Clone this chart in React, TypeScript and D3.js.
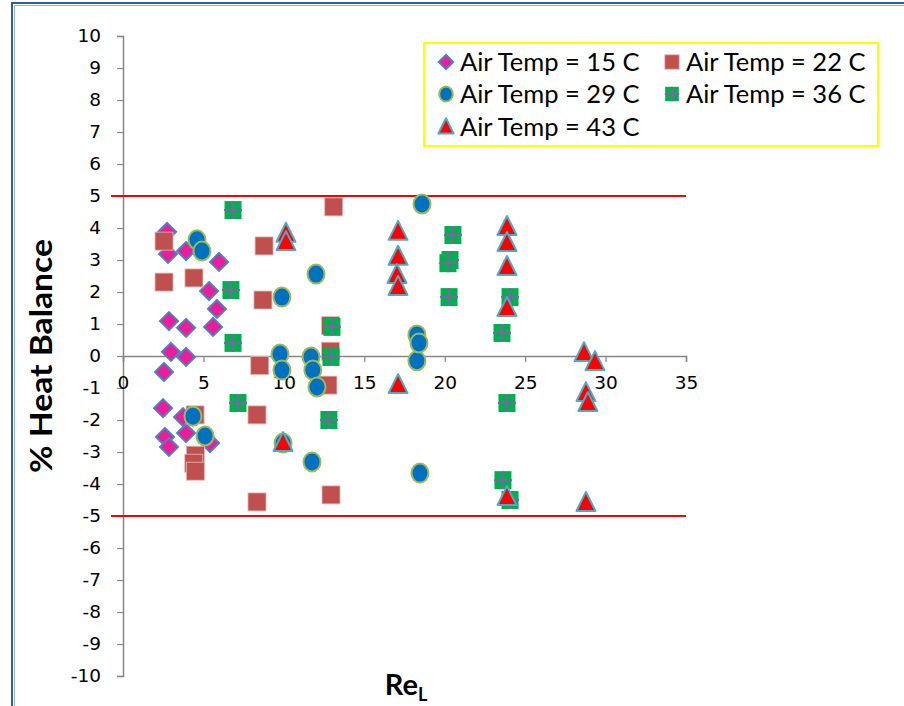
import { useEffect, useRef } from "react";
import * as d3 from "d3";

// Re_L vs % heat balance, one array per air temperature
const t15: [number, number][] = [
  [2.74, 3.88], [2.8, 3.19], [3.92, 3.28], [5.97, 2.94], [5.35, 2.03], [5.84, 1.47],
  [5.6, 0.91], [2.86, 1.09], [3.92, 0.88], [2.98, 0.13], [3.92, -0.03], [2.55, -0.5],
  [2.49, -1.63], [3.73, -1.91], [2.61, -2.53], [3.92, -2.41], [2.86, -2.84], [5.41, -2.72],
];
const t22: [number, number][] = [
  [2.55, 3.59], [2.55, 2.31], [4.41, 2.44], [8.77, 3.44], [8.7, 1.75], [13.1, 4.66],
  [8.5, -0.3], [8.33, -1.84], [4.48, -1.84], [4.5, -3.1], [4.4, -3.35], [4.5, -3.6],
  [8.33, -4.56], [12.74, -0.91], [12.93, -4.34], [12.9, 0.95], [12.9, 0.15],
];
const t29: [number, number][] = [
  [4.6, 3.63], [4.91, 3.28], [12.0, 2.56], [9.88, 1.84], [9.76, 0.06], [11.69, -0.03],
  [9.88, -0.44], [11.8, -0.44], [12.06, -0.97], [4.35, -1.88], [5.1, -2.5], [9.95, -2.72],
  [11.75, -3.31], [18.46, -3.66], [18.27, -0.15], [18.59, 4.75], [18.27, 0.66], [18.4, 0.41],
];
const t36: [number, number][] = [
  [6.84, 4.56], [6.71, 2.06], [6.84, 0.41], [7.15, -1.47], [12.99, 0.91], [12.93, -0.03],
  [12.8, -2.0], [20.51, 3.78], [20.33, 3.0], [20.2, 2.9], [20.27, 1.84], [24.06, 1.84],
  [23.56, 0.72], [23.87, -1.47], [23.62, -3.88], [24.06, -4.5],
];
const t43: [number, number][] = [
  [10.13, 3.82], [10.13, 3.56], [17.1, 3.88], [17.1, 3.1], [17.03, 2.53], [17.1, 2.16],
  [17.1, -0.91], [23.87, 4.03], [23.87, 3.53], [23.87, 2.78], [23.87, 1.5], [28.66, 0.09],
  [29.34, -0.19], [28.78, -1.16], [28.9, -1.47], [23.87, -4.41], [28.78, -4.59], [9.95, -2.72],
];
const xTicks = [0, 5, 10, 15, 20, 25, 30, 35];
const yTicks = d3.range(-10, 11, 1);
const limits = [5, -5];

type Kind = "diamond" | "square" | "circle" | "plus" | "triangle";
const series: { name: string; data: [number, number][]; kind: Kind }[] = [
  { name: "Air Temp = 15 C", data: t15, kind: "diamond" },
  { name: "Air Temp = 22 C", data: t22, kind: "square" },
  { name: "Air Temp = 29 C", data: t29, kind: "circle" },
  { name: "Air Temp = 36 C", data: t36, kind: "plus" },
  { name: "Air Temp = 43 C", data: t43, kind: "triangle" },
];

const W = 904;
const H = 706;

function drawMarker(g: d3.Selection<SVGGElement, unknown, null, undefined>, kind: Kind, s = 1) {
  if (kind === "diamond") {
    g.append("path")
      .attr("d", `M0,${-9 * s}L${9 * s},0L0,${9 * s}L${-9 * s},0Z`)
      .attr("fill", "#EC1C9C")
      .attr("stroke", "#4F81BD")
      .attr("stroke-width", 2);
  } else if (kind === "square") {
    g.append("rect")
      .attr("x", -9 * s).attr("y", -9 * s)
      .attr("width", 18 * s).attr("height", 18 * s)
      .attr("fill", "#C0504D")
      .attr("stroke", "#E6B9B8")
      .attr("stroke-width", 0.8);
  } else if (kind === "circle") {
    g.append("ellipse")
      .attr("rx", 8.5 * s).attr("ry", 9.5 * s)
      .attr("fill", "#0070C0")
      .attr("stroke", "#9BBB59")
      .attr("stroke-width", 2);
  } else if (kind === "plus") {
    g.append("rect")
      .attr("x", -8.5 * s).attr("y", -9 * s)
      .attr("width", 17 * s).attr("height", 18 * s)
      .attr("fill", "#00B050");
    g.append("path")
      .attr("d", `M${-9 * s},0H${9 * s}M0,${-9 * s}V${9 * s}`)
      .attr("stroke", "#8064A2")
      .attr("stroke-width", 2);
  } else {
    g.append("path")
      .attr("d", `M0,${-11 * s}L${9.5 * s},${8 * s}L${-9.5 * s},${8 * s}Z`)
      .attr("fill", "#FF0000")
      .attr("stroke", "#4BACC6")
      .attr("stroke-width", 2)
      .attr("stroke-linejoin", "round");
  }
}

export default function App() {
  const ref = useRef<SVGSVGElement>(null);

  useEffect(() => {
    if (!ref.current) return;
    const svg = d3.select(ref.current);
    svg.selectAll("*").remove();

    const x = d3.scaleLinear().domain([0, 35]).range([123, 686]);
    const y = d3.scaleLinear().domain([-10, 10]).range([676, 36]);
    const fmt = (d: d3.NumberValue) => String(d); // plain hyphen minus like the original

    svg.append("rect").attr("width", W).attr("height", H).attr("fill", "#fff");

    // chart frame
    svg.append("rect")
      .attr("x", 12).attr("y", 3).attr("width", 1000).attr("height", 1000)
      .attr("fill", "none").attr("stroke", "#385D8A").attr("stroke-width", 2);
    svg.append("rect")
      .attr("x", 14.5).attr("y", 5.5).attr("width", 1000).attr("height", 1000)
      .attr("fill", "none").attr("stroke", "#95B3D7").attr("stroke-width", 1);

    const tickFont = "'DejaVu Sans', Verdana, sans-serif";

    // y axis
    const yAxis = svg.append("g")
      .attr("transform", `translate(${x(0)},0)`)
      .call(d3.axisLeft(y).tickValues(yTicks).tickSize(6).tickPadding(16).tickFormat(fmt));
    yAxis.select(".domain").attr("stroke", "#868686").attr("stroke-width", 1.5);
    yAxis.selectAll(".tick line").attr("stroke", "#868686").attr("stroke-width", 1.2);
    yAxis.selectAll("text").attr("font-family", tickFont).attr("font-size", 18.5).attr("fill", "#000");

    // x axis crossing at 0
    const xAxis = svg.append("g")
      .attr("transform", `translate(0,${y(0)})`)
      .call(d3.axisBottom(x).tickValues(xTicks).tickSize(6).tickPadding(14).tickFormat(fmt));
    xAxis.select(".domain").attr("stroke", "#868686").attr("stroke-width", 1.5);
    xAxis.selectAll(".tick line").attr("stroke", "#868686").attr("stroke-width", 1.2);
    xAxis.selectAll("text").attr("font-family", tickFont).attr("font-size", 18.5).attr("fill", "#000");

    // +/- 5 % limit lines
    svg.selectAll(".limit")
      .data(limits)
      .join("line")
      .attr("x1", x(0) - 12).attr("x2", x(35))
      .attr("y1", (d) => y(d)).attr("y2", (d) => y(d))
      .attr("stroke", "#FF0000").attr("stroke-width", 2);

    // points
    series.forEach((s) => {
      const g = svg.append("g");
      s.data.forEach(([a, b]) => {
        const m = g.append("g").attr("transform", `translate(${x(a)},${y(b)})`);
        drawMarker(m, s.kind);
      });
    });

    // axis titles
    const titleFont = "Lato, 'Open Sans', sans-serif";
    svg.append("text")
      .attr("transform", `translate(52,${y(0)}) rotate(-90)`)
      .attr("text-anchor", "middle")
      .attr("font-family", titleFont).attr("font-weight", "bold").attr("font-size", 30)
      .attr("textLength", 234).attr("lengthAdjust", "spacingAndGlyphs")
      .text("% Heat  Balance");
    const rt = svg.append("text")
      .attr("x", 406).attr("y", 695)
      .attr("text-anchor", "middle")
      .attr("font-family", titleFont).attr("font-weight", "bold").attr("font-size", 29);
    rt.append("tspan").text("Re");
    rt.append("tspan").attr("font-size", 18).attr("dy", 6).text("L");

    // legend
    const lg = svg.append("g").attr("transform", "translate(424,43)");
    lg.append("rect").attr("width", 454).attr("height", 103)
      .attr("fill", "#fff").attr("stroke", "#FFFF00").attr("stroke-width", 2);
    const cols = [22, 248];
    const rows = [19, 51, 84];
    series.forEach((s, i) => {
      const cx = cols[i % 2];
      const cy = rows[Math.floor(i / 2)];
      const m = lg.append("g").attr("transform", `translate(${cx},${cy})`);
      drawMarker(m, s.kind, 0.8);
      lg.append("text")
        .attr("x", cx + 14).attr("y", cy + 9)
        .attr("font-family", titleFont).attr("font-size", 25.5)
        .text(s.name);
    });
  }, []);

  return (
    <div style={{ position: "absolute", left: 0, top: 0 }}>
      <svg ref={ref} width={W} height={H} style={{ display: "block" }} />
    </div>
  );
}
